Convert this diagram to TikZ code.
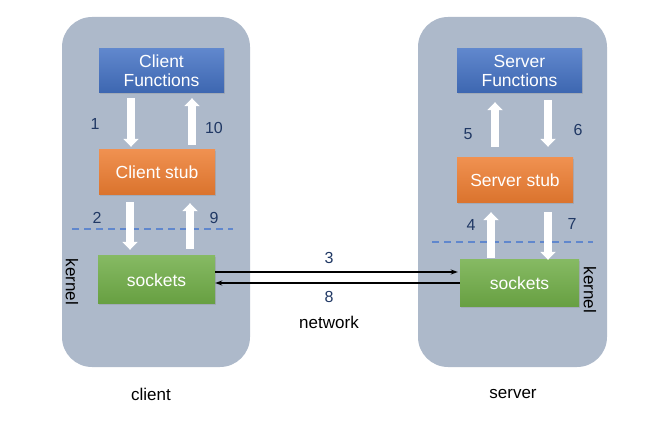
\documentclass[tikz,border=0pt]{standalone}
\usepackage{fontspec}
\setmainfont{Liberation Sans}
\usepackage{tikz}
\usetikzlibrary{arrows.meta, positioning, shadows}

\definecolor{panelgray}{HTML}{ADB9CA}
\definecolor{funcblue}{HTML}{4472C4}
\definecolor{stuborange}{HTML}{ED7D31}
\definecolor{sockgreen}{HTML}{70AD47}
\definecolor{numnavy}{HTML}{203864}

\begin{document}
\begin{tikzpicture}[x=1pt, y=1pt,
  font=\fontsize{17}{19}\selectfont,
  panel/.style={fill=panelgray, rounded corners=30pt, minimum height=350pt, inner sep=0pt},
  block/.style={text=white, align=center, inner sep=0pt, minimum height=45pt,
                font=\fontsize{17.5}{19}\selectfont,
                drop shadow={opacity=0.25, shadow xshift=1pt, shadow yshift=-1.5pt}},
  funcbox/.style={block, top color=funcblue!85!white, bottom color=funcblue!90!black, minimum height=44pt},
  stubbox/.style={block, top color=stuborange!85!white, bottom color=stuborange!92!black},
  sockbox/.style={block, top color=sockgreen!85!white, bottom color=sockgreen!92!black},
  fatarrow/.style={white, line width=7.5pt, -{Triangle[length=8pt, width=15pt]}},
  netarrow/.style={black, line width=1.4pt, -{Stealth[length=7pt, width=5pt]}},
  steplabel/.style={text=numnavy, font=\fontsize{16}{19}\selectfont},
  kernline/.style={funcblue!85!white, line width=1.1pt, dash pattern=on 7pt off 5pt}]

\useasboundingbox (0,0) rectangle (656,426);

\node [panel, minimum width=188pt] (cpanel) at (156,234)   {};
\node [panel, minimum width=189pt] (spanel) at (512.5,234) {};

\node [funcbox, minimum width=125pt] (cfun)  at (161.5,355)   {Client\\Functions};
\node [stubbox, minimum width=116pt] (cstub) at (157,253.5)   {Client stub};
\node [sockbox, minimum width=117pt, minimum height=48pt] (csock) at (156.5,146) {sockets};

\node [funcbox, minimum width=125pt] (sfun)  at (519.5,355)   {Server\\Functions};
\node [stubbox, minimum width=116pt] (sstub) at (515,245.5)   {Server stub};
\node [sockbox, minimum width=119pt, minimum height=47pt] (ssock) at (519.5,142.5) {sockets};

% kernel boundaries
\draw [kernline] (72,197) -- (233,197);
\draw [kernline] (432,184) -- (593,184);

\node [rotate=-90] (ckernel) at (72,144)  {kernel};
\node [rotate=-90] (skernel) at (590,136) {kernel};

% client side calls
\path [draw, fatarrow, shorten <=5pt, shorten >=3pt] ([xshift=-30.5pt]cfun.south) -- ([xshift=-30.5pt]cfun.south |- cstub.north)
  node [steplabel, midway, xshift=-36pt, yshift=-2pt] {1};
\path [draw, fatarrow, shorten <=5pt, shorten >=5pt] ([xshift=35pt]cstub.north) -- ([xshift=35pt]cstub.north |- cfun.south)
  node [steplabel, midway, xshift=22pt, yshift=-6pt] {10};
\path [draw, fatarrow, shorten <=7pt, shorten >=6pt] ([xshift=-27pt]cstub.south) -- ([xshift=-27pt]cstub.south |- csock.north)
  node [steplabel, midway, xshift=-33pt, yshift=8pt] {2};
\path [draw, fatarrow, shorten <=7pt, shorten >=8pt] ([xshift=33.5pt]csock.north) -- ([xshift=33.5pt]csock.north |- cstub.south)
  node [steplabel, midway, xshift=24pt, yshift=8pt] {9};

% server side calls
\path [draw, fatarrow, shorten <=2pt, shorten >=9pt] ([xshift=-28.5pt]ssock.north) -- ([xshift=-28.5pt]ssock.north |- sstub.south)
  node [steplabel, midway, xshift=-20pt, yshift=7pt] {4};
\path [draw, fatarrow, shorten <=11pt, shorten >=9pt] ([xshift=-20pt]sstub.north) -- ([xshift=-20pt]sstub.north |- sfun.south)
  node [steplabel, midway, xshift=-27pt, yshift=-8.5pt] {5};
\path [draw, fatarrow, shorten <=7pt, shorten >=11pt] ([xshift=28.5pt]sfun.south) -- ([xshift=28.5pt]sfun.south |- sstub.north)
  node [steplabel, midway, xshift=30pt, yshift=-4.5pt] {6};
\path [draw, fatarrow, shorten <=9pt, shorten >=0pt] ([xshift=33pt]sstub.south) -- ([xshift=33pt]sstub.south |- ssock.north)
  node [steplabel, midway, xshift=24pt, yshift=8pt] {7};

% network
\path [draw, netarrow, shorten >=2pt] ([yshift=8pt]csock.east) -- ([yshift=8pt]csock.east -| ssock.west)
  node [steplabel, midway, xshift=-8.5pt, yshift=14pt] {3};
\path [draw, netarrow] ([yshift=-3pt]csock.east -| ssock.west) -- ([yshift=-3pt]csock.east)
  node [steplabel, midway, xshift=-8.5pt, yshift=-14pt] {8};

\node (net)    at (329,104) {network};
\node (client) at (151,32)  {client};
\node (server) at (513,32)  {server};

\end{tikzpicture}
\end{document}
